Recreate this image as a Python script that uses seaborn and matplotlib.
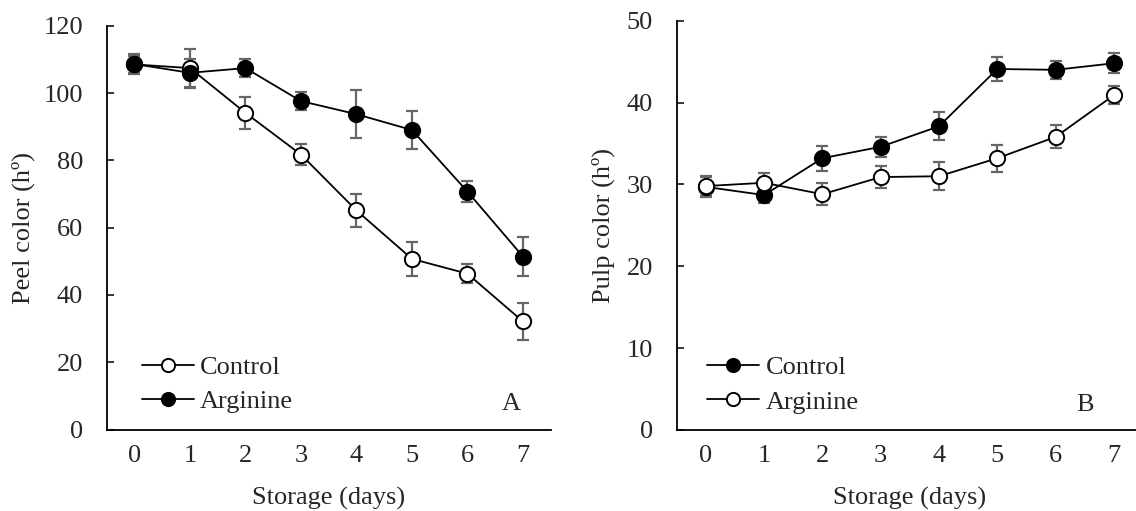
import numpy as np
import pandas as pd
import matplotlib
matplotlib.use("Agg")
import matplotlib.pyplot as plt
from matplotlib.lines import Line2D
import seaborn as sns

# Storage days
days = [0, 1, 2, 3, 4, 5, 6, 7]

# Panel A: peel colour (hue angle)
peel_control = [108.5, 107.4, 94.1, 81.7, 65.1, 50.7, 46.3, 32.1]
peel_control_err = [2.6, 5.8, 4.8, 3.1, 4.8, 5.1, 2.9, 5.6]
peel_arginine = [108.6, 106.0, 107.4, 97.6, 93.7, 89.0, 70.7, 51.4]
peel_arginine_err = [2.9, 4.2, 2.6, 2.8, 7.2, 5.6, 3.0, 5.9]

# Panel B: pulp colour (hue angle)
pulp_control = [29.7, 28.7, 33.2, 34.6, 37.1, 44.1, 44.0, 44.8]
pulp_control_err = [1.2, 1.0, 1.5, 1.2, 1.7, 1.5, 1.1, 1.2]
pulp_arginine = [29.8, 30.2, 28.8, 30.9, 31.0, 33.2, 35.8, 40.9]
pulp_arginine_err = [1.2, 1.2, 1.35, 1.3, 1.7, 1.65, 1.4, 1.1]

series_names = ["Control", "Arginine"]

sns.set_theme(style="white")
plt.rcParams["font.family"] = ["Liberation Serif", "DejaVu Serif"]
FS = 19
plt.rcParams["font.size"] = FS

fig = plt.figure(figsize=(11.36, 5.11), dpi=100)
W, H = 1136, 511
axA = fig.add_axes([106.7 / W, 1 - 429.5 / H, 444 / W, (429.5 - 25.7) / H])
axB = fig.add_axes([676.7 / W, 1 - 430 / H, 466.3 / W, (430 - 20.7) / H])

ERR_COLOR = "#666666"
MS = 11


def draw_series(ax, y, err, filled):
    df = pd.DataFrame({"day": days, "value": y})
    ax.errorbar(days, y, yerr=err, fmt="none", ecolor=ERR_COLOR,
                elinewidth=1.6, capsize=4, capthick=1.6, zorder=2)
    sns.lineplot(data=df, x="day", y="value", ax=ax, color="black",
                 linewidth=1.3, marker="o", markersize=MS,
                 markerfacecolor="black" if filled else "white",
                 markeredgecolor="black", markeredgewidth=1.4,
                 zorder=3, legend=False)


def style_axis(ax, ymax, ystep, ylabel, letter, letter_x, ylabel_x, xlabel_y):
    ax.set_xlim(-0.5, 7.5)
    ax.set_ylim(0, ymax)
    ax.set_xticks(days)
    ax.set_xticks(np.arange(0.5, 8, 1), minor=True)
    ax.set_yticks(np.arange(0, ymax + 1, ystep))
    ax.tick_params(axis="x", which="major", length=0, pad=11, labelsize=FS)
    ax.tick_params(axis="x", which="minor", direction="in", length=6,
                   width=1.1, color="black")
    ax.tick_params(axis="y", direction="in", length=5, width=1.1,
                   color="black", pad=17, labelsize=FS, left=True)
    for side in ["top", "right"]:
        ax.spines[side].set_visible(False)
    for side in ["left", "bottom"]:
        ax.spines[side].set_color("black")
        ax.spines[side].set_linewidth(1.3)
    ax.set_xlabel("Storage (days)", fontsize=FS)
    ax.set_ylabel(ylabel, fontsize=FS)
    ax.xaxis.set_label_coords(0.5, xlabel_y)
    ax.yaxis.set_label_coords(ylabel_x, 0.5)
    ax.text(letter_x, 0.062, letter, transform=ax.transAxes, fontsize=FS,
            ha="center", va="center")
    ax.set_facecolor("white")


def add_legend(ax, first_filled, anchor):
    handles = []
    for name, filled in zip(series_names, [first_filled, not first_filled]):
        handles.append(Line2D([0], [0], color="black", linewidth=1.3,
                              marker="o", markersize=9.5,
                              markerfacecolor="black" if filled else "white",
                              markeredgecolor="black", markeredgewidth=1.4,
                              label=name))
    ax.legend(handles=handles, loc="lower left", bbox_to_anchor=anchor,
              frameon=False, borderpad=0, borderaxespad=0, handlelength=1.97,
              handletextpad=0.23, labelspacing=0.42, fontsize=FS)


draw_series(axA, peel_control, peel_control_err, filled=False)
draw_series(axA, peel_arginine, peel_arginine_err, filled=True)
style_axis(axA, 120, 20, "Peel color (hº)", "A", 0.912, -0.161, -0.141)
add_legend(axA, first_filled=False, anchor=(0.079, 0.04))

draw_series(axB, pulp_control, pulp_control_err, filled=True)
draw_series(axB, pulp_arginine, pulp_arginine_err, filled=False)
style_axis(axB, 50, 10, "Pulp color (hº)", "B", 0.876, -0.132, -0.139)
add_legend(axB, first_filled=True, anchor=(0.066, 0.04))

fig.savefig("out.png", dpi=100, facecolor="white")
